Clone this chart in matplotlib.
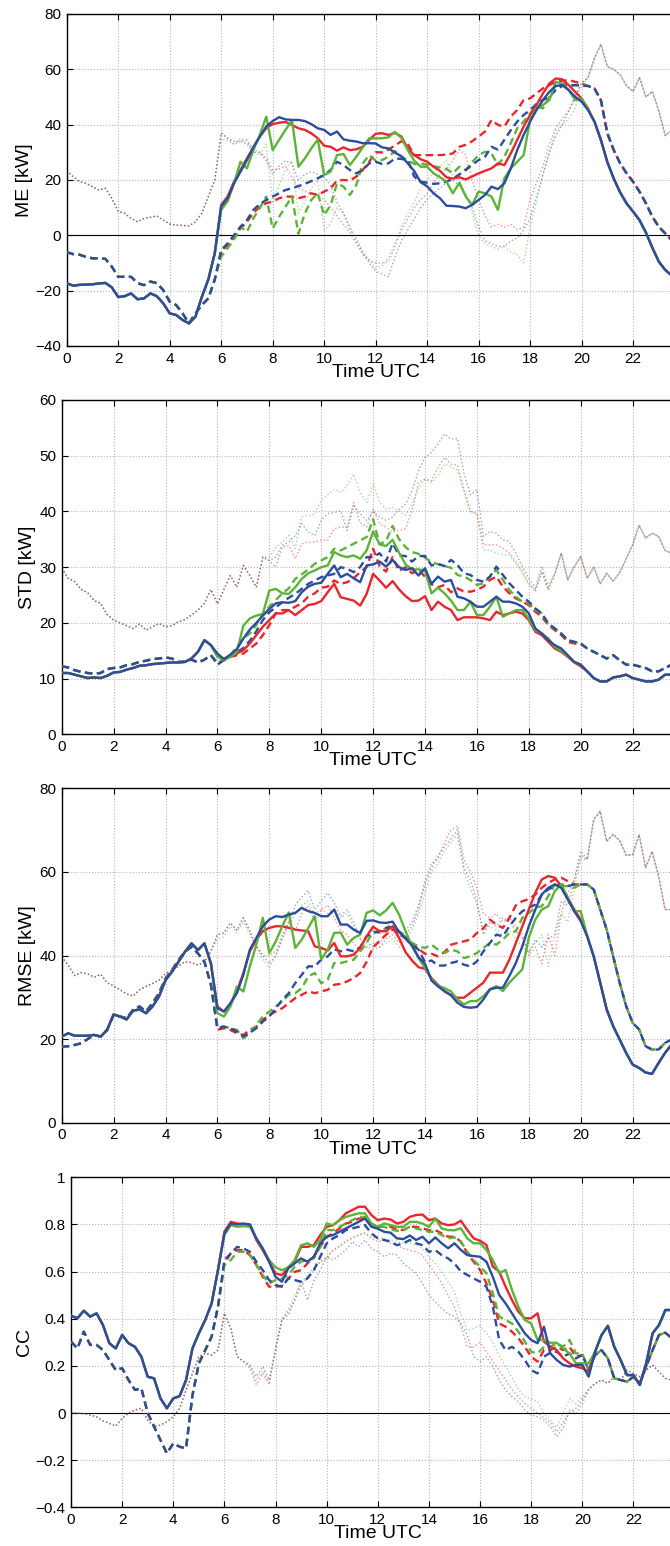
import numpy as np
import matplotlib
matplotlib.use("Agg")
import matplotlib.pyplot as plt
from matplotlib.ticker import FuncFormatter, MultipleLocator

plt.rcParams['font.family'] = ['Liberation Sans', 'DejaVu Sans']

# Time axis: 0:00 .. 23:30 UTC in 15-minute steps.
# Each series is stored in three pieces: night (0:00-5:45), day (6:00-20:15)
# and evening (20:30-23:30). Night and evening are common to all three models.
hours = np.arange(95) * 0.25

# ---------------------------------------------------------------- ME [kW]
me_night_solid = [-17.3, -18.2, -17.9, -17.8, -17.7, -17.4, -17.2, -18.8,
                  -22.3, -22.0, -21.0, -23.1, -22.8, -21.0, -22.0, -24.6,
                  -28.2, -28.8, -30.6, -31.8, -29.4, -22.2, -16.0, -6.5]
me_night_dash = [-6.1, -6.8, -7.0, -7.8, -8.3, -8.3, -8.5, -11.3,
                 -15.0, -15.0, -15.0, -17.3, -18.0, -16.7, -17.3, -19.8,
                 -24.0, -25.2, -28.2, -31.8, -28.2, -25.2, -22.8, -16.0]
me_night_dot = [23.4, 21.2, 19.4, 18.8, 17.6, 16.4, 17.0, 13.4,
                8.6, 8.0, 6.1, 4.9, 6.1, 6.5, 7.0, 5.5,
                4.1, 3.7, 3.6, 3.4, 4.9, 8.0, 14.0, 20.0]

me_red_solid = [11.0, 14.0, 19.4, 23.6, 27.8, 31.8, 35.7, 38.7,
                40.2, 40.7, 41.0, 39.9, 38.7, 38.1, 36.9, 35.1,
                32.4, 32.0, 30.6, 31.8, 30.8, 31.1, 32.0, 34.5,
                36.7, 36.9, 36.3, 37.0, 35.7, 31.4, 29.0, 27.5,
                26.6, 24.8, 23.3, 21.0, 20.5, 21.0, 20.2, 21.3,
                22.4, 23.3, 24.2, 26.0, 25.4, 29.6, 34.5, 39.3,
                43.5, 47.1, 51.3, 54.9, 56.7, 56.4, 54.3, 51.9,
                49.5, 45.8]
me_green_solid = [9.2, 12.3, 18.8, 26.6, 24.2, 30.8, 36.3, 42.9,
                  30.8, 34.5, 38.1, 41.7, 24.8, 27.8, 31.4, 34.6,
                  21.8, 23.0, 29.0, 29.4, 25.4, 28.4, 31.8, 35.1,
                  35.0, 35.1, 35.4, 37.4, 35.2, 30.8, 27.0, 24.8,
                  24.8, 22.4, 21.0, 19.4, 15.2, 19.0, 14.0, 11.0,
                  15.8, 15.2, 14.0, 9.2, 20.6, 24.2, 26.6, 29.0,
                  41.7, 45.9, 47.1, 48.9, 55.5, 54.7, 52.5, 48.9,
                  49.5, 45.5]
me_blue_solid = [10.4, 13.4, 18.8, 23.0, 27.2, 31.8, 35.7, 39.3,
                 41.3, 42.7, 41.9, 41.7, 41.7, 41.3, 40.2, 38.7,
                 38.1, 36.3, 37.5, 34.7, 34.2, 33.9, 33.3, 33.3,
                 33.2, 31.8, 31.4, 29.9, 28.6, 26.0, 23.2, 19.2,
                 17.7, 15.2, 13.4, 10.7, 10.6, 10.4, 9.8, 11.0,
                 12.8, 14.6, 17.6, 16.7, 18.8, 24.2, 30.8, 36.3,
                 41.1, 45.3, 48.9, 51.9, 54.0, 54.3, 52.5, 50.1,
                 48.3, 45.3]
me_red_dash = [-5.9, -3.5, -0.5, 2.5, 4.9, 8.0, 10.4, 11.6,
               12.2, 13.4, 14.0, 14.0, 13.4, 14.0, 15.2, 14.6,
               15.8, 17.0, 19.8, 20.0, 19.8, 21.2, 23.6, 26.6,
               30.0, 30.0, 31.0, 32.5, 34.0, 33.0, 29.0, 29.0,
               29.0, 29.0, 29.0, 29.2, 29.6, 32.0, 32.7, 34.0,
               35.7, 37.5, 41.7, 39.9, 39.3, 42.9, 45.3, 48.9,
               49.5, 51.3, 53.1, 54.3, 55.5, 55.9, 56.1, 55.5,
               54.9, 54.0]
me_green_dash = [-7.7, -4.6, -1.6, 3.1, 1.3, 6.1, 9.8, 14.0,
                 2.5, 6.7, 10.4, 14.0, 0.6, 7.9, 12.8, 15.2,
                 7.3, 10.9, 18.8, 17.6, 14.6, 18.2, 26.0, 29.0,
                 27.0, 27.2, 28.4, 30.5, 28.4, 27.2, 25.8, 26.0,
                 25.5, 25.0, 24.5, 24.0, 22.4, 24.8, 23.6, 26.5,
                 29.0, 30.2, 29.6, 25.4, 28.4, 33.3, 38.7, 41.1,
                 44.1, 46.5, 45.9, 50.1, 54.3, 54.9, 54.3, 54.3,
                 54.3, 54.0]
me_blue_dash = [-5.3, -2.9, 0.1, 3.1, 5.5, 9.2, 11.3, 12.8,
                14.0, 15.2, 16.4, 17.0, 17.8, 18.6, 19.6, 20.6,
                21.8, 23.6, 26.6, 25.4, 23.6, 22.4, 23.6, 26.0,
                26.6, 25.8, 26.0, 27.8, 27.6, 27.2, 21.2, 19.4,
                19.0, 18.6, 18.8, 19.4, 20.5, 22.0, 23.6, 25.5,
                27.2, 28.4, 32.0, 31.0, 34.5, 38.0, 41.1, 43.5,
                45.3, 47.5, 48.9, 50.1, 52.5, 54.0, 54.0, 54.3,
                54.0, 54.0]
me_red_dot = [37.0, 35.0, 33.0, 34.0, 34.5, 31.0, 30.0, 28.0,
              23.6, 24.0, 25.0, 21.0, 17.0, 16.0, 15.2, 14.0,
              13.0, 10.0, 7.0, 4.0, 1.0, -3.0, -7.0, -9.0,
              -10.0, -10.0, -9.5, -4.0, 2.0, 6.0, 10.0, 13.0,
              15.0, 19.0, 22.0, 24.0, 27.0, 31.0, 29.0, 20.0,
              13.0, 7.0, 3.0, 4.0, 3.0, 4.0, 2.0, 3.0,
              13.0, 19.0, 25.0, 33.0, 39.0, 42.0, 45.0, 50.0,
              55.0, 57.0]
me_green_dot = [35, 34, 33, 35, 34, 30, 29, 33,
                12, 18, 24, 27, 8, 12, 17, 20,
                2, 4, 10, 8, 2, -1, -6, -9,
                -12, -11, -8, -3, 3, 8, 12, 17,
                20, 23, 25, 27, 22, 20, 15, 8,
                0, -3, -4, -5, -4, -6, -7, -10,
                3, 12, 22, 30, 38, 40, 42, 46,
                54, 57]
me_blue_dot = [37, 35, 34, 34, 33, 30, 30, 27,
               22, 25, 27, 26, 20, 22, 23, 22,
               21, 18, 12, 8, 3, -2, -6, -10,
               -13, -14, -15, -8, -2, 2, 6, 10,
               13, 15, 17, 19, 20, 18, 15, 10,
               3, -2, -3, -4, -4, -2, -1, 2,
               6, 14, 22, 30, 36, 40, 45, 50,
               55, 57]
me_eve_solid = [41.1, 34.5, 26.5, 20.5, 15.5, 11.5, 8.6, 5.5, 1.0, -4.5,
                -9.5, -12.5, -14.5]
me_eve_dash = [53.1, 48.9, 36.9, 30.8, 26.0, 22.4, 19.4, 15.8, 11.6, 6.7,
               3.1, 0.7, -1.7]
me_eve_dot = [64, 69, 61, 60, 58, 54, 52, 57, 50, 52, 45, 36, 38]

# ---------------------------------------------------------------- STD [kW]
std_night_solid = [11.0, 11.0, 10.7, 10.4, 10.1, 10.2, 10.1, 10.5,
                   11.1, 11.2, 11.6, 11.9, 12.3, 12.4, 12.6, 12.7,
                   12.8, 12.9, 12.9, 13.0, 13.6, 14.8, 16.9, 16.0]
std_night_dash = [12.2, 12.0, 11.5, 11.2, 11.0, 10.9, 11.0, 11.7,
                  11.9, 12.0, 12.4, 12.6, 13.0, 13.2, 13.5, 13.6,
                  13.8, 13.6, 13.0, 13.0, 13.4, 12.9, 13.4, 14.2]
std_night_dot = [29.8, 28.0, 27.4, 26.0, 25.4, 24.0, 23.5, 21.5,
                 20.5, 20.0, 19.5, 19.0, 19.8, 18.7, 19.3, 19.9,
                 19.3, 19.5, 20.2, 20.6, 21.4, 22.3, 23.5, 26.0]

std_red_solid = [14.0, 13.5, 14.0, 14.5, 15.1, 16.3, 17.8, 19.3,
                 20.5, 21.7, 21.7, 22.3, 21.4, 22.3, 23.2, 23.4,
                 23.9, 25.5, 27.0, 24.6, 24.3, 24.0, 23.1, 25.2,
                 28.8, 27.6, 26.3, 27.5, 26.0, 24.8, 23.9, 24.0,
                 24.8, 22.3, 23.8, 22.9, 22.3, 20.5, 21.0, 21.0,
                 21.0, 20.8, 20.5, 22.0, 21.4, 21.7, 22.0, 21.7,
                 20.5, 18.4, 17.8, 16.6, 15.4, 14.8, 13.9, 12.9,
                 12.2, 11.3]
std_green_solid = [13.9, 13.3, 13.9, 14.8, 19.5, 20.8, 21.3, 21.6,
                   25.8, 26.1, 25.3, 25.2, 26.4, 27.9, 28.9, 29.4,
                   30.0, 30.3, 32.7, 32.1, 31.8, 32.1, 31.5, 33.0,
                   36.4, 34.1, 33.8, 34.9, 32.6, 30.5, 29.6, 29.6,
                   29.4, 25.3, 26.3, 25.3, 24.0, 22.3, 22.3, 23.8,
                   21.4, 21.4, 22.9, 24.7, 21.1, 21.7, 22.3, 22.3,
                   20.8, 18.7, 18.1, 17.2, 15.7, 15.0, 14.0, 13.0,
                   12.5, 11.3]
std_blue_solid = [14.5, 13.5, 14.3, 15.3, 17.2, 18.8, 20.0, 21.3,
                  22.5, 23.5, 23.7, 23.6, 23.9, 25.5, 26.5, 27.0,
                  27.2, 28.8, 30.3, 28.2, 28.8, 28.0, 27.3, 30.3,
                  30.5, 31.0, 30.1, 31.3, 30.0, 29.5, 29.8, 28.5,
                  29.8, 27.0, 28.3, 27.4, 27.7, 24.7, 24.4, 23.8,
                  22.9, 22.9, 23.8, 24.7, 23.8, 23.8, 23.5, 22.9,
                  21.7, 19.0, 18.1, 16.9, 16.0, 15.4, 14.2, 13.0,
                  12.5, 11.3]
std_red_dash = [12.8, 13.3, 13.9, 14.2, 14.5, 15.4, 16.3, 17.8,
                19.6, 21.7, 22.3, 22.3, 22.9, 23.5, 24.7, 25.3,
                26.3, 26.5, 27.6, 27.0, 27.3, 28.0, 29.1, 30.0,
                33.3, 30.2, 29.2, 31.8, 29.3, 30.0, 28.9, 29.5,
                28.3, 26.9, 26.4, 26.8, 25.5, 26.2, 25.6, 25.6,
                25.9, 26.5, 27.7, 28.3, 26.5, 25.3, 24.4, 23.8,
                23.2, 22.0, 21.1, 19.6, 18.7, 17.8, 16.6, 16.3,
                16.2, 15.4]
std_green_dash = [13.0, 13.3, 14.2, 15.7, 17.2, 18.1, 19.6, 21.7,
                  22.9, 24.1, 25.3, 26.2, 27.9, 28.7, 29.6, 30.6,
                  31.2, 31.8, 33.3, 33.0, 33.6, 34.2, 34.8, 35.4,
                  38.6, 34.1, 34.7, 37.4, 35.0, 33.6, 32.7, 32.4,
                  31.7, 30.9, 30.5, 30.2, 29.9, 28.6, 28.3, 27.7,
                  26.8, 27.1, 28.3, 29.5, 27.7, 25.9, 24.7, 23.8,
                  23.5, 22.3, 21.7, 19.6, 19.0, 18.1, 16.9, 16.6,
                  16.3, 15.4]
std_blue_dash = [12.5, 13.3, 14.2, 14.7, 15.5, 16.8, 18.5, 20.5,
                 21.9, 22.8, 23.7, 24.5, 25.2, 26.1, 27.0, 27.6,
                 28.2, 28.5, 28.8, 30.0, 29.7, 29.1, 30.0, 31.8,
                 31.8, 32.5, 31.0, 34.3, 32.1, 32.0, 31.0, 32.0,
                 32.0, 30.3, 30.6, 30.2, 31.3, 30.4, 28.9, 28.6,
                 27.7, 27.4, 28.3, 30.1, 28.6, 27.1, 25.9, 24.7,
                 23.8, 22.6, 21.7, 19.9, 19.0, 18.1, 16.9, 16.6,
                 16.3, 15.4]
std_red_dot = [23.4, 26.0, 28.5, 26.4, 30.3, 28.5, 26.4, 31.8,
               31.2, 30.0, 33.6, 33.9, 31.5, 34.2, 34.5, 34.5,
               34.8, 34.8, 36.9, 37.2, 37.2, 41.6, 38.0, 37.2,
               40.4, 37.8, 37.2, 36.3, 36.6, 36.9, 40.1, 45.2,
               45.8, 45.5, 47.9, 49.7, 48.5, 48.3, 43.9, 40.0,
               39.7, 34.0, 34.0, 34.0, 33.4, 32.5, 31.0, 29.2,
               27.1, 25.6, 29.2, 25.9, 28.7, 32.5, 27.7, 30.1,
               31.9, 28.0]
std_green_dot = [23.4, 26.0, 28.5, 26.4, 30.3, 28.5, 26.4, 31.8,
                 31.8, 33.6, 34.5, 35.7, 33.3, 39.0, 39.3, 39.5,
                 42.0, 43.0, 44.0, 43.4, 44.6, 46.7, 43.4, 41.6,
                 44.9, 41.6, 40.4, 40.7, 40.1, 39.3, 41.3, 44.3,
                 45.8, 45.2, 46.4, 48.5, 48.0, 47.4, 43.6, 40.0,
                 39.4, 33.1, 33.1, 32.5, 32.2, 32.2, 30.7, 28.9,
                 26.8, 25.9, 29.2, 25.9, 28.7, 32.5, 27.7, 30.1,
                 31.9, 28.0]
std_blue_dot = [23.4, 26.0, 28.5, 26.4, 30.3, 28.5, 26.4, 31.8,
                31.2, 31.8, 33.9, 34.5, 35.7, 37.8, 36.3, 35.7,
                38.4, 39.6, 39.8, 40.1, 36.6, 41.0, 39.6, 38.4,
                39.9, 39.0, 38.4, 39.0, 40.4, 41.3, 43.7, 47.3,
                49.7, 50.6, 52.1, 53.9, 53.0, 53.1, 46.8, 43.0,
                43.9, 35.5, 36.4, 36.1, 34.9, 34.6, 32.5, 30.1,
                28.0, 26.2, 30.1, 26.5, 28.9, 32.5, 27.7, 30.1,
                31.9, 28.0]
std_eve_solid = [10.1, 9.5, 9.5, 10.2, 10.4, 10.7, 10.1, 9.8, 9.5, 9.5,
                 9.8, 10.7, 10.7]
std_eve_dash = [14.8, 14.2, 13.6, 14.2, 13.3, 12.5, 12.5, 12.2, 11.9, 11.3,
                11.3, 11.9, 12.5]
std_eve_dot = [30.0, 27.0, 28.9, 27.5, 29.0, 31.5, 34.0, 37.5, 35.2, 36.1,
               35.5, 33.0, 32.5]

# ---------------------------------------------------------------- RMSE [kW]
rmse_night_solid = [20.6, 21.4, 20.8, 20.8, 20.8, 21.0, 20.6, 22.2,
                    25.9, 25.4, 24.7, 26.8, 27.1, 26.2, 27.8, 30.2,
                    34.1, 36.1, 38.5, 40.9, 42.9, 41.3, 42.9, 38.1]
rmse_night_dash = [18.2, 18.3, 18.6, 19.0, 20.0, 21.0, 20.6, 22.2,
                   25.8, 25.4, 25.0, 27.0, 27.8, 26.6, 28.6, 31.0,
                   34.5, 36.5, 38.9, 40.9, 42.1, 40.5, 38.5, 33.0]
rmse_night_dot = [39.7, 37.7, 35.2, 35.9, 35.6, 34.8, 35.5, 33.5,
                  32.7, 31.8, 30.8, 30.3, 31.8, 32.6, 33.3, 34.1,
                  35.7, 36.5, 37.5, 38.5, 38.3, 37.7, 38.5, 41.0]

rmse_red_solid = [27.8, 26.6, 28.2, 31.4, 35.8, 41.0, 43.8, 45.8,
                  46.6, 47.0, 47.0, 46.6, 46.2, 46.0, 45.8, 42.2,
                  41.8, 41.2, 43.0, 39.8, 39.8, 40.2, 41.8, 44.6,
                  46.9, 45.8, 45.8, 47.0, 44.2, 40.8, 38.8, 37.2,
                  36.8, 34.6, 33.0, 31.4, 30.5, 29.9, 29.9, 31.1,
                  32.3, 33.5, 35.9, 35.9, 35.9, 39.0, 43.0, 47.0,
                  51.0, 55.0, 58.2, 59.0, 58.6, 56.6, 53.8, 51.0,
                  48.6, 44.6]
rmse_green_solid = [26.2, 25.4, 27.8, 32.6, 31.4, 37.4, 42.6, 49.0,
                    40.6, 43.4, 47.0, 50.3, 41.8, 43.8, 46.6, 49.4,
                    39.1, 41.4, 45.4, 45.5, 42.6, 44.2, 45.0, 50.2,
                    50.8, 49.6, 50.8, 52.6, 49.8, 45.8, 42.2, 39.4,
                    37.0, 34.4, 32.8, 32.2, 31.4, 29.5, 28.3, 29.1,
                    29.1, 30.3, 31.9, 32.7, 31.5, 33.5, 35.1, 36.7,
                    44.3, 48.6, 51.0, 51.8, 55.4, 57.0, 53.8, 50.6,
                    50.6, 44.6]
rmse_blue_solid = [27.4, 26.6, 28.6, 31.0, 35.4, 41.4, 44.2, 47.0,
                   48.6, 49.4, 49.2, 49.8, 50.2, 51.4, 50.6, 50.2,
                   49.4, 49.4, 51.0, 47.4, 47.4, 46.2, 45.4, 48.3,
                   48.4, 47.9, 47.8, 48.1, 45.6, 44.0, 42.4, 39.6,
                   38.0, 34.0, 32.6, 31.5, 30.5, 28.7, 27.7, 27.5,
                   27.7, 29.5, 31.9, 32.3, 32.3, 35.1, 38.2, 42.2,
                   47.0, 51.0, 54.6, 56.2, 57.0, 56.2, 53.4, 50.6,
                   48.2, 44.6]
rmse_red_dash = [22.2, 22.6, 22.2, 21.4, 21.0, 22.2, 23.0, 24.6,
                 25.8, 26.6, 27.4, 28.6, 29.8, 30.6, 31.4, 31.0,
                 31.4, 31.8, 33.0, 33.2, 33.8, 34.6, 35.8, 38.5,
                 42.0, 43.5, 45.0, 46.2, 45.5, 44.4, 43.0, 41.6,
                 40.4, 40.4, 39.8, 40.8, 42.6, 43.0, 43.4, 43.8,
                 45.4, 46.5, 48.6, 47.4, 46.6, 49.0, 52.0, 53.0,
                 53.5, 54.6, 56.2, 57.4, 58.2, 58.6, 57.8, 57.0,
                 57.0, 57.0]
rmse_green_dash = [23.0, 23.0, 22.6, 22.2, 20.2, 21.4, 23.4, 25.4,
                   26.6, 27.8, 29.0, 30.6, 31.0, 32.2, 35.0, 35.8,
                   33.4, 34.2, 38.2, 38.2, 38.6, 39.0, 41.0, 43.0,
                   45.8, 45.4, 46.6, 47.4, 45.0, 44.2, 43.0, 42.2,
                   41.8, 42.6, 41.4, 40.6, 41.4, 41.0, 39.4, 39.8,
                   40.6, 41.8, 43.0, 42.6, 43.8, 45.4, 45.8, 49.0,
                   50.2, 51.4, 51.8, 54.2, 57.0, 56.6, 56.6, 56.2,
                   57.0, 57.0]
rmse_blue_dash = [22.6, 23.0, 22.6, 21.8, 20.6, 21.5, 22.6, 24.2,
                  25.4, 27.4, 29.4, 31.0, 33.4, 35.4, 37.4, 37.4,
                  39.0, 39.8, 41.5, 41.0, 41.4, 41.0, 42.0, 44.6,
                  45.4, 45.8, 46.6, 46.8, 45.8, 44.4, 42.6, 41.4,
                  38.4, 38.8, 37.6, 37.6, 38.2, 38.6, 37.8, 37.4,
                  38.6, 41.0, 43.0, 45.0, 44.6, 47.0, 49.0, 50.6,
                  51.4, 52.2, 54.6, 55.8, 56.6, 57.0, 56.6, 57.0,
                  57.0, 57.0]
rmse_red_dot = [45.0, 45.4, 47.8, 46.0, 49.0, 45.8, 42.2, 40.0,
                40.0, 41.0, 45.0, 48.0, 46.0, 50.0, 52.0, 48.0,
                51.0, 52.0, 49.0, 46.0, 45.0, 43.0, 41.0, 42.0,
                41.5, 42.0, 44.0, 45.0, 43.0, 45.0, 47.0, 51.0,
                58.0, 62.0, 63.0, 67.0, 70.0, 71.0, 63.0, 60.0,
                56.0, 50.0, 49.0, 50.0, 48.0, 49.0, 47.0, 45.0,
                40.0, 42.0, 38.0, 45.0, 40.0, 50.0, 55.0, 58.0,
                65.0, 63.0]
rmse_green_dot = [44.0, 44.5, 47.0, 45.5, 48.0, 45.0, 42.0, 39.0,
                  37.0, 40.0, 44.0, 47.0, 50.0, 52.0, 53.0, 50.0,
                  51.0, 50.0, 51.0, 49.0, 50.0, 47.0, 44.0, 42.0,
                  43.0, 42.0, 43.0, 44.0, 42.0, 44.0, 46.0, 50.0,
                  55.0, 60.0, 62.0, 65.0, 67.0, 69.0, 60.0, 56.0,
                  52.0, 46.0, 47.0, 46.0, 45.0, 46.0, 44.0, 42.0,
                  41.0, 43.0, 45.0, 37.4, 44.6, 50.0, 48.0, 56.0,
                  63.0, 63.0]
rmse_blue_dot = [45.0, 45.4, 47.8, 46.0, 49.0, 45.8, 42.2, 40.0,
                 38.0, 40.0, 44.0, 48.0, 52.0, 54.0, 55.5, 51.0,
                 53.0, 55.0, 52.6, 49.4, 51.0, 48.0, 44.0, 43.0,
                 42.0, 43.0, 45.0, 46.0, 44.0, 46.0, 48.0, 52.0,
                 57.0, 61.0, 64.0, 66.0, 68.0, 70.0, 61.0, 58.0,
                 53.0, 45.0, 48.0, 47.0, 49.0, 48.0, 46.0, 44.0,
                 40.6, 43.8, 42.0, 44.0, 45.0, 53.0, 52.0, 58.0,
                 64.0, 63.0]
rmse_eve_solid = [39.8, 33.5, 27.1, 23.1, 19.9, 16.7, 13.9, 13.1, 12.0, 11.7,
                  14.3, 16.7, 18.7]
rmse_eve_dash = [55.8, 51.0, 46.2, 39.8, 33.5, 27.9, 23.9, 22.3, 18.3, 17.5,
                 17.5, 19.1, 19.9]
rmse_eve_dot = [72.5, 74.5, 67.3, 69.0, 67.5, 64.0, 64.1, 68.9, 61.0, 64.9,
                59.0, 51.0, 51.0]

# ---------------------------------------------------------------- CC
cc_night_solid = [0.413, 0.402, 0.434, 0.409, 0.423, 0.373, 0.296, 0.274,
                  0.331, 0.296, 0.281, 0.239, 0.154, 0.147, 0.062, 0.020,
                  0.062, 0.072, 0.140, 0.274, 0.338, 0.395, 0.465, 0.607]
cc_night_dash = [0.303, 0.274, 0.345, 0.289, 0.289, 0.267, 0.225, 0.182,
                 0.190, 0.140, 0.098, 0.105, 0.000, -0.058, -0.115, -0.171,
                 -0.129, -0.143, -0.150, 0.075, 0.210, 0.267, 0.324, 0.451]
cc_night_dot = [0.000, 0.000, -0.003, -0.008, -0.016, -0.033, -0.044, -0.055,
                -0.023, 0.000, 0.013, 0.020, -0.030, -0.058, -0.051, -0.037,
                -0.016, 0.020, 0.098, 0.168, 0.239, 0.253, 0.246, 0.267]

cc_red_solid = [0.769, 0.811, 0.804, 0.801, 0.797, 0.734, 0.691, 0.642,
                0.592, 0.585, 0.618, 0.642, 0.705, 0.705, 0.712, 0.755,
                0.790, 0.797, 0.818, 0.847, 0.861, 0.875, 0.875, 0.840,
                0.818, 0.825, 0.821, 0.804, 0.811, 0.832, 0.840, 0.842,
                0.818, 0.825, 0.804, 0.797, 0.800, 0.816, 0.777, 0.741,
                0.731, 0.713, 0.621, 0.600, 0.536, 0.479, 0.430, 0.402,
                0.402, 0.423, 0.303, 0.281, 0.267, 0.232, 0.211, 0.197,
                0.190, 0.175]
cc_green_solid = [0.755, 0.797, 0.790, 0.793, 0.790, 0.741, 0.698, 0.649,
                  0.618, 0.606, 0.618, 0.649, 0.712, 0.720, 0.705, 0.734,
                  0.804, 0.797, 0.818, 0.832, 0.840, 0.847, 0.847, 0.804,
                  0.790, 0.804, 0.797, 0.790, 0.790, 0.811, 0.811, 0.804,
                  0.790, 0.825, 0.783, 0.776, 0.775, 0.784, 0.741, 0.720,
                  0.720, 0.692, 0.649, 0.593, 0.607, 0.522, 0.451, 0.395,
                  0.380, 0.310, 0.310, 0.298, 0.298, 0.274, 0.253, 0.211,
                  0.211, 0.211]
cc_blue_solid = [0.762, 0.804, 0.800, 0.804, 0.800, 0.741, 0.698, 0.642,
                 0.578, 0.557, 0.614, 0.635, 0.656, 0.642, 0.663, 0.720,
                 0.748, 0.755, 0.769, 0.783, 0.797, 0.811, 0.825, 0.790,
                 0.782, 0.769, 0.765, 0.741, 0.738, 0.753, 0.734, 0.748,
                 0.720, 0.745, 0.720, 0.699, 0.720, 0.692, 0.670, 0.666,
                 0.663, 0.642, 0.578, 0.501, 0.465, 0.423, 0.380, 0.338,
                 0.310, 0.296, 0.366, 0.253, 0.225, 0.204, 0.197, 0.204,
                 0.204, 0.154]
cc_red_dash = [0.635, 0.677, 0.691, 0.691, 0.670, 0.628, 0.578, 0.536,
               0.536, 0.539, 0.571, 0.599, 0.606, 0.635, 0.663, 0.705,
               0.748, 0.762, 0.783, 0.804, 0.811, 0.825, 0.825, 0.804,
               0.790, 0.790, 0.790, 0.779, 0.776, 0.790, 0.790, 0.783,
               0.776, 0.776, 0.762, 0.748, 0.748, 0.727, 0.678, 0.642,
               0.607, 0.550, 0.479, 0.380, 0.366, 0.345, 0.317, 0.281,
               0.239, 0.218, 0.267, 0.267, 0.281, 0.267, 0.281, 0.239,
               0.246, 0.182]
cc_green_dash = [0.628, 0.649, 0.684, 0.684, 0.670, 0.628, 0.585, 0.550,
                 0.564, 0.571, 0.585, 0.621, 0.642, 0.649, 0.656, 0.705,
                 0.776, 0.776, 0.790, 0.804, 0.818, 0.832, 0.832, 0.797,
                 0.790, 0.790, 0.779, 0.773, 0.776, 0.790, 0.783, 0.776,
                 0.769, 0.769, 0.755, 0.741, 0.745, 0.727, 0.685, 0.649,
                 0.621, 0.593, 0.508, 0.409, 0.395, 0.380, 0.345, 0.303,
                 0.260, 0.253, 0.281, 0.281, 0.296, 0.281, 0.310, 0.253,
                 0.253, 0.182]
cc_blue_dash = [0.649, 0.677, 0.705, 0.698, 0.684, 0.642, 0.606, 0.564,
                0.543, 0.536, 0.571, 0.564, 0.557, 0.571, 0.606, 0.663,
                0.720, 0.741, 0.755, 0.776, 0.783, 0.790, 0.797, 0.762,
                0.741, 0.734, 0.727, 0.712, 0.720, 0.734, 0.720, 0.712,
                0.684, 0.691, 0.670, 0.656, 0.635, 0.600, 0.586, 0.571,
                0.557, 0.536, 0.451, 0.310, 0.267, 0.281, 0.260, 0.225,
                0.182, 0.168, 0.239, 0.256, 0.260, 0.239, 0.253, 0.232,
                0.246, 0.182]
cc_red_dot = [0.423, 0.359, 0.239, 0.218, 0.190, 0.120, 0.169, 0.119,
              0.267, 0.395, 0.430, 0.479, 0.536, 0.578, 0.606, 0.642,
              0.656, 0.691, 0.705, 0.727, 0.741, 0.755, 0.762, 0.741,
              0.727, 0.734, 0.720, 0.712, 0.698, 0.691, 0.684, 0.670,
              0.628, 0.592, 0.550, 0.500, 0.450, 0.370, 0.280, 0.280,
              0.300, 0.260, 0.220, 0.180, 0.140, 0.100, 0.070, 0.040,
              0.020, 0.000, -0.020, -0.040, -0.080, -0.040, 0.000, 0.020,
              0.060, 0.100]
cc_green_dot = [0.423, 0.359, 0.239, 0.220, 0.200, 0.140, 0.180, 0.130,
                0.280, 0.400, 0.440, 0.500, 0.550, 0.590, 0.615, 0.645,
                0.660, 0.690, 0.710, 0.730, 0.745, 0.755, 0.765, 0.748,
                0.741, 0.741, 0.734, 0.727, 0.720, 0.720, 0.712, 0.698,
                0.663, 0.635, 0.600, 0.557, 0.515, 0.420, 0.350, 0.360,
                0.370, 0.340, 0.300, 0.240, 0.200, 0.150, 0.100, 0.070,
                0.060, 0.050, 0.000, -0.030, -0.060, 0.000, 0.060, 0.040,
                0.070, 0.100]
cc_blue_dot = [0.423, 0.359, 0.239, 0.218, 0.204, 0.155, 0.197, 0.140,
               0.267, 0.395, 0.416, 0.479, 0.564, 0.479, 0.560, 0.606,
               0.663, 0.649, 0.670, 0.691, 0.727, 0.705, 0.734, 0.698,
               0.684, 0.663, 0.677, 0.670, 0.635, 0.614, 0.592, 0.550,
               0.500, 0.472, 0.444, 0.420, 0.410, 0.380, 0.330, 0.240,
               0.218, 0.239, 0.197, 0.140, 0.098, 0.069, 0.048, 0.013,
               -0.008, -0.016, -0.030, -0.058, -0.100, -0.065, 0.013, -0.001,
               0.041, 0.098]
cc_eve_solid = [0.260, 0.330, 0.370, 0.281, 0.225, 0.161, 0.161, 0.119,
                0.211, 0.338, 0.373, 0.437, 0.437]
cc_eve_dash = [0.246, 0.267, 0.232, 0.147, 0.140, 0.133, 0.154, 0.126,
               0.197, 0.267, 0.331, 0.341, 0.317]
cc_eve_dot = [0.126, 0.140, 0.126, 0.154, 0.140, 0.182, 0.168, 0.154,
              0.182, 0.204, 0.175, 0.147, 0.140]

# ---------------------------------------------------------------- styling
RED, GREEN, BLUE = '#e8262b', '#5cb338', '#2c4c9e'
DASH = (0, (3.2, 1.9))
XTICKS = list(range(0, 24, 2))


def join(night, day, eve):
    return np.concatenate([night, day, eve])


panels = [
    dict(label='ME [kW]', ylim=(-40, 80), step=20, zero=True,
         rect=[0.0996, 0.7762, 0.9221, 0.21475],
         night=(me_night_solid, me_night_dash, me_night_dot),
         eve=(me_eve_solid, me_eve_dash, me_eve_dot),
         solid=(me_red_solid, me_green_solid, me_blue_solid),
         dash=(me_red_dash, me_green_dash, me_blue_dash),
         dot=(me_red_dot, me_green_dot, me_blue_dot)),
    dict(label='STD [kW]', ylim=(0, 60), step=10, zero=False,
         rect=[0.0921, 0.52503, 0.9296, 0.21624],
         night=(std_night_solid, std_night_dash, std_night_dot),
         eve=(std_eve_solid, std_eve_dash, std_eve_dot),
         solid=(std_red_solid, std_green_solid, std_blue_solid),
         dash=(std_red_dash, std_green_dash, std_blue_dash),
         dot=(std_red_dot, std_green_dot, std_blue_dot)),
    dict(label='RMSE [kW]', ylim=(0, 80), step=20, zero=False,
         rect=[0.0921, 0.2738, 0.9296, 0.2163],
         night=(rmse_night_solid, rmse_night_dash, rmse_night_dot),
         eve=(rmse_eve_solid, rmse_eve_dash, rmse_eve_dot),
         solid=(rmse_red_solid, rmse_green_solid, rmse_blue_solid),
         dash=(rmse_red_dash, rmse_green_dash, rmse_blue_dash),
         dot=(rmse_red_dot, rmse_green_dot, rmse_blue_dot)),
    dict(label='CC', ylim=(-0.4, 1.0), step=0.2, zero=True,
         rect=[0.1060, 0.02503, 0.9157, 0.21345],
         night=(cc_night_solid, cc_night_dash, cc_night_dot),
         eve=(cc_eve_solid, cc_eve_dash, cc_eve_dot),
         solid=(cc_red_solid, cc_green_solid, cc_blue_solid),
         dash=(cc_red_dash, cc_green_dash, cc_blue_dash),
         dot=(cc_red_dot, cc_green_dot, cc_blue_dot)),
]


def cc_fmt(v, _):
    if abs(v) < 1e-9:
        return '0'
    if abs(v - 1) < 1e-9:
        return '1'
    return f'{v:.1f}'.replace('-', '\u2212')


fig = plt.figure(figsize=(6.7, 15.46), dpi=100)

for p in panels:
    ax = fig.add_axes(p['rect'])
    n_solid, n_dash, n_dot = p['night']
    e_solid, e_dash, e_dot = p['eve']
    colors = (RED, GREEN, BLUE)

    # faint dotted series underneath (green, blue, red so overlaps turn mauve)
    for idx in (1, 2, 0):
        ax.plot(hours, join(n_dot, p['dot'][idx], e_dot), ls=':',
                color=colors[idx], lw=1.0, alpha=0.5, zorder=2)
    for idx in (0, 1, 2):
        ax.plot(hours, join(n_dash, p['dash'][idx], e_dash), ls=DASH,
                color=colors[idx], lw=1.7, zorder=3)
    for idx in (0, 1, 2):
        ax.plot(hours, join(n_solid, p['solid'][idx], e_solid), ls='-',
                color=colors[idx], lw=1.7, zorder=4)

    if p['zero']:
        ax.axhline(0, color='black', lw=0.8, zorder=1)

    ax.set_xlim(0, 24)
    ax.set_ylim(*p['ylim'])
    ax.set_xticks(XTICKS)
    ax.yaxis.set_major_locator(MultipleLocator(p['step']))
    if p['label'] == 'CC':
        ax.yaxis.set_major_formatter(FuncFormatter(cc_fmt))
    ax.grid(True, ls=':', color='#b4b4b4', lw=0.8)
    ax.set_axisbelow(True)
    ax.tick_params(direction='in', top=True, right=True, length=4,
                   width=0.8, labelsize=11, pad=4)
    for s in ax.spines.values():
        s.set_linewidth(1.0)
    ax.set_xlabel('Time UTC', fontsize=14, labelpad=-1)
    ax.set_ylabel(p['label'], fontsize=14, labelpad=2)

fig.savefig('out.png', dpi=100)
